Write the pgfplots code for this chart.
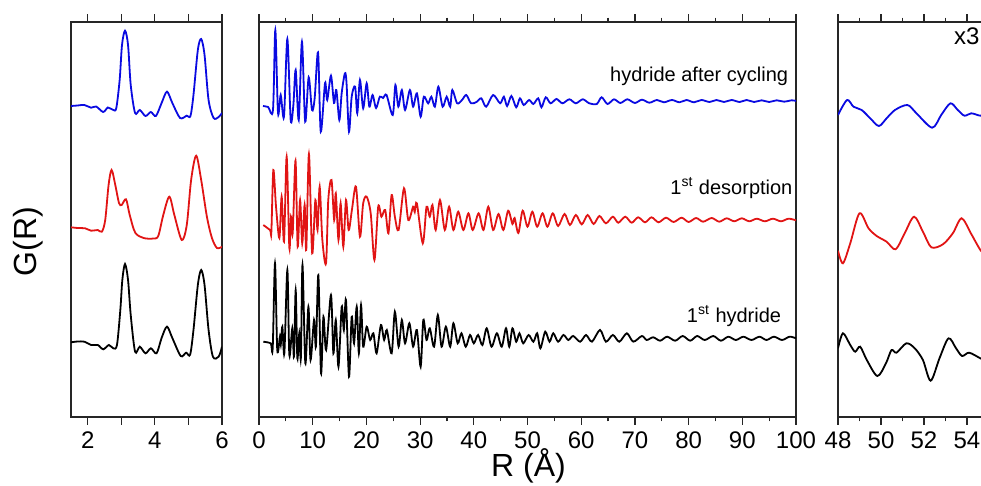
\documentclass[border=0pt]{standalone}
\usepackage{pgfplots}
\pgfplotsset{compat=1.18}
\usepackage{fontspec}
\setmainfont{Liberation Sans}
\definecolor{cB}{RGB}{10,10,225}
\definecolor{cR}{RGB}{225,20,20}
\definecolor{cK}{RGB}{0,0,0}
\pgfplotsset{
  panel/.style={
    scale only axis, height=197.5pt, anchor=north west,
    y dir=reverse, ymin=22, ymax=417, ytick=\empty,
    tick align=outside, xticklabel pos=lower,
    major tick length=3.8pt, minor tick length=2.2pt,
    axis line style={line width=0.6pt, black!85},
    every tick/.style={line width=0.6pt, black!85},
    tick label style={font=\fontsize{12}{14}\selectfont},
    /pgf/number format/assume math mode=true,
    every axis plot/.append style={line width=0.9pt, smooth, tension=0.5, mark=none},
  }
}
\begin{document}
\begin{tikzpicture}
% ---------------- left panel ----------------
\begin{axis}[panel, at={(35.5pt,-11pt)}, width=75.5pt,
  xmin=1.5, xmax=6, xtick={2,4,6}, minor xtick={3,5}, minor tick length=3.8pt]
\addplot[cB] coordinates {
(1.5,106) (1.7,105.5) (1.9,105) (2.1,107.7) (2.25,106.5) (2.46,112) (2.6,107.5)
(2.76,110) (2.85,108) (2.95,80) (3.02,45) (3.11,30.7) (3.2,45) (3.28,85) (3.41,113)
(3.55,110) (3.72,116) (3.88,112) (4.03,116) (4.2,103) (4.36,91.7) (4.52,103) (4.75,118)
(4.95,115.7) (5.06,116) (5.15,95) (5.28,50) (5.38,39) (5.48,55) (5.6,100) (5.75,118)
(5.9,117) (6.0,113)};
\addplot[cR] coordinates {
(1.5,227.3) (1.7,228) (1.92,228.3) (2.1,230.7) (2.3,230) (2.42,231.7) (2.52,220)
(2.62,185) (2.71,170) (2.82,185) (2.93,203) (3.01,205) (3.14,199.3) (3.25,215)
(3.42,233) (3.7,238.3) (3.95,238.5) (4.1,236) (4.25,215) (4.43,196.7) (4.58,215)
(4.8,240) (4.95,225) (5.08,180) (5.23,155.7) (5.38,180) (5.55,216.7) (5.7,238)
(5.85,248) (6.0,246.7)};
\addplot[cK] coordinates {
(1.5,342.3) (1.7,341.5) (1.9,341.7) (2.1,345) (2.3,345) (2.46,349.3) (2.63,345)
(2.76,348.3) (2.87,345) (2.97,310) (3.03,280) (3.11,264) (3.2,280) (3.28,315)
(3.41,351.7) (3.55,346.7) (3.72,353.3) (3.88,348.3) (4.05,353.3) (4.2,338) (4.36,326.7)
(4.52,338) (4.77,356) (4.93,352.7) (5.05,354.7) (5.15,330) (5.28,285) (5.38,270)
(5.48,285) (5.6,330) (5.73,356.7) (5.9,356.7) (6.0,346.7)};
\end{axis}
% ---------------- middle panel ----------------
\begin{axis}[panel, at={(129.5pt,-11pt)}, width=268.5pt,
  xmin=0, xmax=100, xtick={0,10,...,100}, minor xtick={5,15,...,95}]
\addplot[cB] coordinates {
(0.74,106) (1.7,107) (2.6,110) (3.04,30) (3.54,113) (4.04,95) (4.65,116.7) (5.28,39)
(5.9,120) (6.4,105) (6.83,70) (7.4,120) (8.0,41.7) (8.6,121.7) (9.25,77.3) (9.87,110)
(10.37,98) (11.0,52.3) (11.5,131.7) (12.3,83) (12.7,100) (13.4,75.7) (13.97,103)
(14.4,90) (14.96,120) (15.4,93) (16.0,73.3) (16.3,83) (16.76,131.7) (17.26,96.7)
(17.9,86.7) (18.3,113.3) (18.8,80) (19.4,108.3) (20.05,83.3) (20.55,106.7) (21.15,95)
(21.8,108) (22.5,96.7) (23.1,98) (23.75,95) (24.9,115) (25.4,85) (25.95,106.7)
(26.6,90) (27.2,110) (28.1,90) (28.7,106.7) (29.4,93.3) (30.1,116.7) (30.7,96.7)
(31.5,103.3) (32.1,96.7) (32.75,106.7) (33.4,86.7) (34.2,106.7) (34.95,96.7)
(35.6,106.7) (36.0,90) (36.9,103.3) (37.8,100) (38.6,95) (39.5,103.3) (40.6,101.7)
(41.4,98.3) (42.3,106.7) (43.6,95) (44.9,103.3) (45.6,96.7) (46.2,106) (47.0,96)
(47.9,107.3) (48.6,98.3) (49.3,105) (50.3,100) (51.1,104) (52.0,98.3) (52.6,107.3)
(53.4,97.3) (54.3,103.3) (55.4,99) (56.5,103.3) (57.8,99.3) (59.0,103.3) (60.3,99.3)
(61.5,103.3) (62.9,104) (63.8,97.3) (64.9,104) (66.1,99.3) (67.3,103) (68.6,99.3)
(70.0,103) (71.3,99.7) (72.7,102.7) (74.1,100) (75.4,102.3) (76.9,100) (78.3,102.3)
(79.6,100) (81.0,102.3) (82.4,100) (83.9,102) (85.2,100) (86.6,102) (88.0,100)
(89.5,102) (90.8,100) (92.2,102) (93.6,100.3) (95.0,102) (96.4,100.3) (97.8,101.7)
(99.2,100.3) (100,101)};
\addplot[cR] coordinates {
(0.8,225) (2.05,230) (2.3,232) (2.67,170) (3.17,206.7) (3.79,238) (4.22,196.7)
(4.66,241.7) (5.15,156.7) (5.65,248) (5.96,216.7) (6.27,233.3) (6.8,160.7) (7.2,246.7)
(7.65,200) (8.05,243.3) (8.5,205) (8.8,250) (9.3,154) (9.9,253.3) (10.5,200)
(10.9,230) (11.3,186.7) (11.8,240) (12.48,263.3) (12.9,200) (13.5,180) (14.0,220)
(14.3,193.3) (14.8,240) (15.2,203.3) (15.7,246.7) (16.2,200) (16.7,230) (17.3,210)
(18.06,186.7) (18.8,236.7) (19.4,203.3) (20.05,196.7) (20.8,213.3) (21.5,260)
(22.2,206.7) (22.8,216.7) (23.5,210) (24.1,233.3) (24.7,195) (25.3,216.7) (26.0,230)
(27.0,188.3) (27.8,220) (28.7,206.7) (29.0,212) (29.4,203.3) (30.5,243.3) (31.2,206.7)
(31.8,216.7) (32.3,205) (32.9,230) (33.7,200) (34.6,230) (35.4,206.7) (36.2,230)
(37.1,211.7) (38.05,230) (39.0,213.3) (39.8,230) (40.9,213.3) (41.8,230) (42.7,206.7)
(43.6,230) (44.6,214) (45.5,230) (46.4,210.7) (47.2,224) (47.6,218) (48.3,233)
(49.1,210.7) (50.0,226.7) (50.9,211.7) (51.8,226.7) (52.8,213.3) (53.7,226.7)
(54.7,213.3) (55.7,226) (56.9,214) (57.9,225) (59.0,215) (60.1,224.3) (61.2,215)
(62.3,224) (63.4,216) (64.6,223.3) (65.9,216.7) (66.9,222.7) (68.2,216.7) (69.4,222.7)
(70.6,217.3) (71.9,222.3) (73.1,217.3) (74.4,222.3) (75.8,217.7) (77.2,222) (78.7,217.7)
(80.0,222) (81.4,218) (82.7,221.7) (84.3,218) (85.7,221.7) (87.1,218.3) (88.5,221.3)
(89.9,218.3) (91.3,221.3) (92.7,218.7) (94.2,221.3) (95.7,218.7) (97.2,221.3)
(98.6,218.7) (100,220.3)};
\addplot[cK] coordinates {
(0.8,341.7) (2.17,343.3) (2.55,348.3) (2.98,263.3) (3.4,350) (3.9,336.7) (4.05,345)
(4.35,326.7) (4.72,353.3) (5.28,270) (5.65,355) (6.2,328.3) (6.52,356.7) (6.83,290)
(7.14,358.3) (7.5,333.3) (7.8,358) (8.1,265) (8.63,363.3) (9.2,306.7) (9.6,360)
(10.25,320) (10.6,346.7) (11.05,275) (11.55,373.3) (12.0,316.7) (12.5,350) (13.4,295)
(13.85,353.3) (14.3,320) (14.8,366.7) (15.4,306.7) (15.8,330) (16.2,300) (16.76,376.7)
(17.26,316.7) (17.7,343.3) (18.2,306.7) (18.6,353.3) (19.0,305) (19.4,346.7)
(20.05,326.7) (20.7,340) (21.3,333.3) (21.9,353.3) (22.7,325) (23.3,340) (23.8,330)
(24.7,353.3) (25.3,311.7) (26.0,346.7) (26.6,320) (27.2,343.3) (28.0,323.3) (28.7,346.7)
(29.4,330) (30.1,366.7) (30.6,320) (31.2,340) (31.8,328.3) (32.6,346.7) (33.3,315)
(34.0,346.7) (34.8,326.7) (35.6,346.7) (36.2,323.3) (37.0,343.3) (37.7,333.3)
(38.5,346.7) (39.3,335) (40.0,343.3) (40.8,335) (41.6,345) (42.4,328.3) (43.3,346.7)
(44.3,333.3) (45.2,346.7) (46.0,328.3) (46.6,346.7) (47.2,328.3) (47.9,341.7)
(48.5,333.3) (49.2,343.3) (50.2,335) (51.1,341.7) (51.8,333.3) (52.4,348.3) (53.3,331.7)
(54.1,341.7) (54.8,333.3) (55.7,341.7) (56.7,335) (57.6,340) (58.5,336) (59.8,341.7)
(60.9,335) (62.0,341.7) (63.5,330) (64.6,341.7) (65.9,335) (67.1,341.7) (68.5,333.3)
(69.7,341.7) (71.3,336) (72.2,340) (73.4,337.3) (74.7,340.7) (76.0,336.7) (77.5,340.7)
(78.9,336) (80.3,340.7) (81.6,336) (83.0,340) (84.6,336) (86.0,340.7) (87.4,336.7)
(88.8,340) (90.2,336.7) (91.7,340) (93.2,336.7) (94.5,340) (95.9,336.7) (97.4,340)
(98.8,336.7) (100,338.3)};
\node[anchor=base east, inner sep=0pt, font=\fontsize{10}{12}\selectfont] at (axis cs:98.6,82) {hydride after cycling};
\node[anchor=base east, inner sep=0pt, font=\fontsize{10}{12}\selectfont] at (axis cs:99.4,194) {1\textsuperscript{st} desorption};
\node[anchor=base east, inner sep=0pt, font=\fontsize{10}{12}\selectfont] at (axis cs:97.3,322) {1\textsuperscript{st} hydride};
\end{axis}
% ---------------- right panel ----------------
\begin{axis}[panel, at={(419pt,-11pt)}, width=75.25pt,
  xmin=48, xmax=55, xtick={48,50,52,54}, minor xtick={49,51,53}]
\addplot[cB] coordinates {
(48.0,115) (48.42,100) (48.72,106.7) (49.1,110) (49.5,118.3) (49.9,126) (50.26,118.3)
(50.65,110) (51.23,105) (51.65,113.3) (52.38,127.7) (52.8,115) (53.23,103.3)
(53.57,110) (53.88,115.7) (54.2,113.3) (54.62,115.7) (54.9,114)};
\addplot[cR] coordinates {
(48.0,250.7) (48.23,263.3) (48.57,243.3) (49.0,213.3) (49.42,228.3) (49.8,236)
(50.26,241.7) (50.68,249.3) (51.1,233.3) (51.54,216.7) (51.95,231.7) (52.34,247.3)
(52.88,244.3) (53.34,233.3) (53.75,218.3) (54.18,233.3) (54.62,250) (54.9,256)};
\addplot[cK] coordinates {
(48.0,348.3) (48.23,333.3) (48.57,345) (48.8,351.7) (49.03,346.7) (49.34,360)
(49.83,376) (50.23,363.3) (50.49,350) (50.72,352.7) (51.18,343.3) (51.57,348.3)
(51.95,360) (52.31,380.7) (52.72,358.3) (53.14,338.3) (53.49,348.3) (53.77,356)
(54.1,352.7) (54.62,358.3) (54.9,361)};
\node[anchor=base east, inner sep=0pt, font=\fontsize{12}{14}\selectfont] at (axis cs:54.6,45) {x3};
\end{axis}
% ---------------- outer labels ----------------
\node[rotate=90, font=\fontsize{16}{18}\selectfont] at (14pt,-120.75pt) {G(R)};
\node[anchor=base, font=\fontsize{16}{18}\selectfont] at (264.25pt,-238.5pt) {R (Å)};
\pgfresetboundingbox
\path[use as bounding box] (0pt,0pt) rectangle (490.5pt,-243pt);
\end{tikzpicture}
\end{document}
